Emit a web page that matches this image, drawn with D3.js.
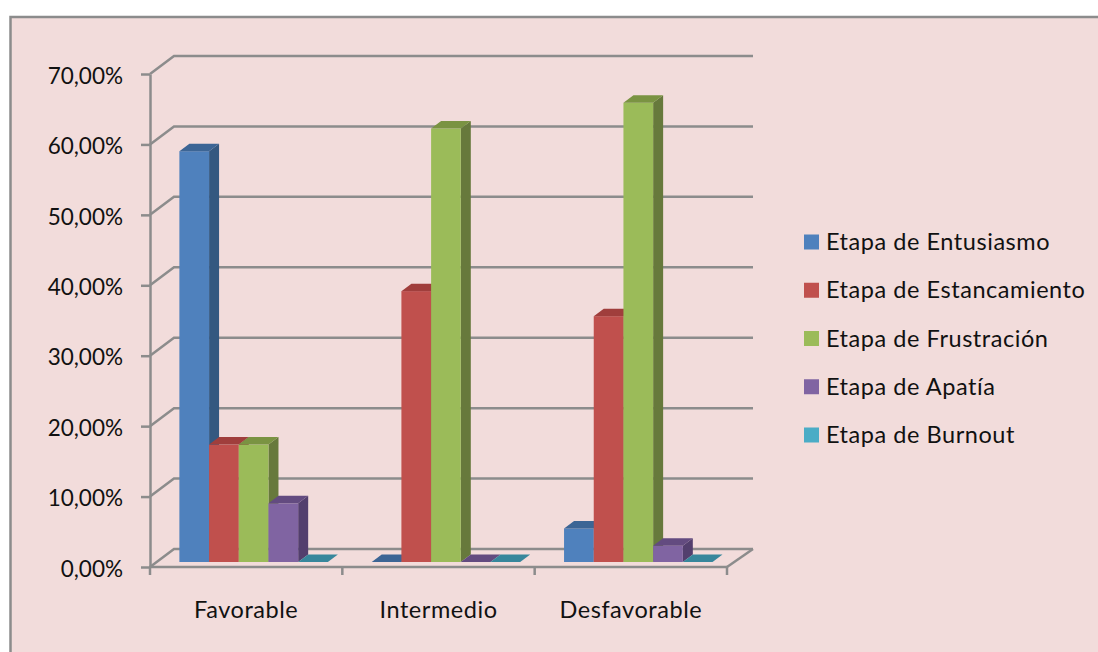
<!DOCTYPE html>
<html lang="es">
<head>
<meta charset="utf-8">
<title>Etapas por clima</title>
<script src="https://cdn.jsdelivr.net/npm/d3@7/dist/d3.min.js"></script>
<style>
  html, body { margin: 0; padding: 0; background: #fff; }
  svg { display: block; }
  text { font-family: Lato, "Open Sans", sans-serif; fill: #111; }
</style>
</head>
<body>
<svg id="chart" width="1098" height="652"></svg>
<script>
// Percentages per category, one array per stage
const categories = ["Favorable", "Intermedio", "Desfavorable"];
const seriesNames = ["Etapa de Entusiasmo", "Etapa de Estancamiento", "Etapa de Frustración", "Etapa de Apatía", "Etapa de Burnout"];
const entusiasmo = [58.33, 0, 4.76];
const estancamiento = [16.67, 38.46, 34.9];
const frustracion = [16.67, 61.54, 65.2];
const apatia = [8.33, 0, 2.3];
const burnout = [0, 0, 0];
const seriesValues = [entusiasmo, estancamiento, frustracion, apatia, burnout];
const yTicks = [0, 10, 20, 30, 40, 50, 60, 70];
const yTickLabels = ["0,00%", "10,00%", "20,00%", "30,00%", "40,00%", "50,00%", "60,00%", "70,00%"];

// Face colours for each series: front, side, top
const frontColors = ["#4f81bd", "#c0504d", "#9bbb59", "#8064a2", "#4bacc6"];
const sideColors = ["#345880", "#8b3a38", "#67793c", "#533f6e", "#2f7286"];
const topColors = ["#3c6595", "#a03e3c", "#7a9342", "#634b80", "#37879c"];

const svg = d3.select("#chart");
const axisColor = "#8c8c8c";
const lineWidth = 2.5;

// Plot box: front floor corners, and the shift to the back wall
const plot = { left: 150, right: 727, bottom: 567, top: 74, wallX: 24, wallY: -18 };
// Shift of a bar's base above the front edge, and the depth of each bar
const barBaseShift = -5;
const depth = { x: 10, y: -7.5 };

const y = d3.scaleLinear().domain([0, 70]).range([plot.bottom, plot.top]);
const x0 = d3.scaleBand().domain(categories).range([plot.left, plot.right])
  .paddingInner(0.228).paddingOuter(0.114).align(0.67);
const x1 = d3.scaleBand().domain(d3.range(seriesNames.length)).range([0, x0.bandwidth()]);

// Chart area with its border along the top and left
svg.append("rect").attr("x", 10.5).attr("y", 17).attr("width", 1200).attr("height", 800)
  .attr("fill", "#f2dcdb").attr("stroke", axisColor).attr("stroke-width", lineWidth);

// Back wall gridlines with their diagonals down to the front axis
const grid = svg.append("g").attr("fill", "none").attr("stroke", axisColor).attr("stroke-width", lineWidth);
grid.selectAll("path").data(yTicks).join("path")
  .attr("d", d => {
    const yf = y(d);
    return d3.line()([
      [plot.left, yf],
      [plot.left + plot.wallX, yf + plot.wallY],
      [plot.right + plot.wallX + 2, yf + plot.wallY]
    ]);
  });
grid.append("path").attr("d", d3.line()([
  [plot.right, plot.bottom],
  [plot.right + plot.wallX + 2, plot.bottom + plot.wallY]
]));

// Vertical axis with the decimal-comma labels
const yAxis = d3.axisLeft(y).tickValues(yTicks)
  .tickFormat((d, i) => yTickLabels[i]).tickSize(9).tickSizeOuter(0).tickPadding(18);
const yAxisG = svg.append("g").attr("transform", `translate(${plot.left},0)`).call(yAxis);
yAxisG.selectAll("path,line").attr("stroke", axisColor).attr("stroke-width", lineWidth);
yAxisG.selectAll("text").attr("font-size", 22.5).attr("fill", "#111").attr("dy", "0.41em");
yAxisG.attr("font-family", null);

// Horizontal axis: separators between categories and centred names
const step = x0.step();
const xBreaks = d3.range(categories.length + 1).map(i => plot.left + i * step);
const xAxisG = svg.append("g");
xAxisG.append("line").attr("x1", plot.left - 1).attr("x2", plot.right + 1)
  .attr("y1", plot.bottom).attr("y2", plot.bottom)
  .attr("stroke", axisColor).attr("stroke-width", lineWidth);
xAxisG.selectAll("line.sep").data(xBreaks).join("line").attr("class", "sep")
  .attr("x1", d => d).attr("x2", d => d)
  .attr("y1", plot.bottom).attr("y2", plot.bottom + 8)
  .attr("stroke", axisColor).attr("stroke-width", lineWidth);
xAxisG.selectAll("text").data(categories).join("text")
  .attr("x", (d, i) => plot.left + (i + 0.5) * step)
  .attr("y", 618).attr("text-anchor", "middle").attr("font-size", 23.5)
  .attr("letter-spacing", 0.55).text(d => d);

// 3D columns, drawn left to right so each one covers its neighbour's side face
const bars = svg.append("g");
categories.forEach((cat, c) => {
  seriesNames.forEach((name, s) => {
    const v = seriesValues[s][c];
    const xl = x0(cat) + x1(s);
    const xr = xl + x1.bandwidth();
    const yb = y(0) + barBaseShift;
    const yt = y(v) + barBaseShift;
    const g = bars.append("g");
    if (v > 0) {
      g.append("path").attr("fill", sideColors[s]).attr("d", d3.line()([
        [xr, yt], [xr + depth.x, yt + depth.y], [xr + depth.x, yb + depth.y], [xr, yb]
      ]) + "Z");
      g.append("rect").attr("x", xl).attr("y", yt).attr("width", xr - xl).attr("height", yb - yt)
        .attr("fill", frontColors[s]);
    }
    g.append("path").attr("fill", topColors[s]).attr("d", d3.line()([
      [xl, yt], [xl + depth.x, yt + depth.y], [xr + depth.x, yt + depth.y], [xr, yt]
    ]) + "Z");
  });
});

// Legend
const legendY = d3.scalePoint().domain(seriesNames).range([242, 435]);
const legend = svg.append("g").selectAll("g").data(seriesNames).join("g")
  .attr("transform", d => `translate(804,${legendY(d)})`);
legend.append("rect").attr("x", 0).attr("y", -7.5).attr("width", 15).attr("height", 15)
  .attr("fill", (d, i) => frontColors[i]);
legend.append("text").attr("x", 22).attr("y", 8).attr("font-size", 23.5)
  .attr("letter-spacing", 0.55).text(d => d);
</script>
</body>
</html>
